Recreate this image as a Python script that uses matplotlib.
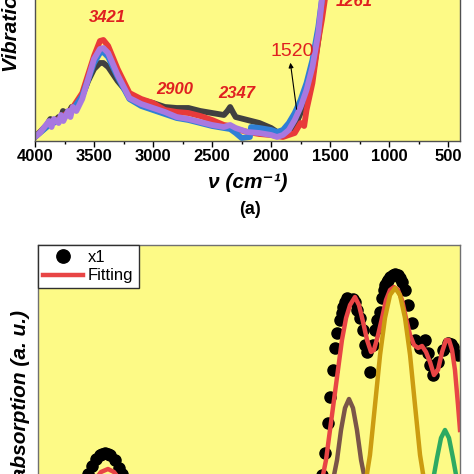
import numpy as np
import matplotlib
matplotlib.use('Agg')
import matplotlib.pyplot as plt

plt.rcParams['font.family'] = ['Liberation Sans', 'DejaVu Sans']

## Top panel (a): FTIR spectra, wavenumber (cm-1) vs absorbance (a.u.)

wn_gray = [4000, 3950, 3900, 3870, 3850, 3800, 3780, 3763, 3720, 3690, 3650, 3600, 3550, 3500, 3450, 3421,
           3380, 3300, 3200, 3100, 3000, 2900, 2800, 2700, 2600, 2500, 2400, 2370, 2347, 2320, 2300, 2200,
           2100, 2000, 1950, 1900, 1850, 1800, 1750, 1700, 1650, 1600, 1560, 1500]
ab_gray = [0.04, 0.10, 0.16, 0.22, 0.18, 0.24, 0.22, 0.30, 0.27, 0.34, 0.32, 0.45, 0.60, 0.72, 0.78, 0.78,
           0.74, 0.60, 0.46, 0.41, 0.38, 0.34, 0.33, 0.33, 0.30, 0.28, 0.26, 0.30, 0.34, 0.28, 0.24, 0.21,
           0.18, 0.13, 0.09, 0.05, 0.08, 0.14, 0.28, 0.44, 0.64, 1.01, 1.41, 2.40]

wn_red = [4000, 3900, 3800, 3700, 3600, 3500, 3450, 3421, 3380, 3300, 3200, 3100, 3000, 2900, 2800, 2700,
          2600, 2500, 2400, 2347, 2300, 2200, 2100, 2000, 1900, 1800, 1750, 1720, 1700, 1650, 1600, 1570,
          1540, 1480]
ab_red = [0.04, 0.15, 0.22, 0.30, 0.48, 0.85, 1.00, 1.01, 0.95, 0.72, 0.48, 0.42, 0.38, 0.31, 0.29, 0.28,
          0.25, 0.21, 0.16, 0.15, 0.12, 0.09, 0.07, 0.06, 0.04, 0.08, 0.18, 0.15, 0.31, 0.58, 1.01, 1.21,
          1.45, 2.40]

wn_blue = [4000, 3900, 3800, 3700, 3600, 3500, 3450, 3421, 3380, 3300, 3200, 3100, 3000, 2900, 2800, 2700,
           2600, 2500, 2400, 2347, 2300, 2250, 2180, 2170, 2100, 2000, 1950, 1900, 1850, 1800, 1750, 1700,
           1650, 1600, 1570, 1500]
ab_blue = [0.04, 0.14, 0.21, 0.28, 0.45, 0.78, 0.88, 0.89, 0.84, 0.64, 0.42, 0.35, 0.31, 0.27, 0.23, 0.21,
           0.18, 0.15, 0.13, 0.12, 0.08, 0.03, 0.04, 0.14, 0.13, 0.11, 0.09, 0.11, 0.18, 0.28, 0.41, 0.58,
           0.81, 1.14, 1.41, 2.40]

wn_purple = [4000, 3960, 3920, 3880, 3860, 3840, 3800, 3780, 3760, 3720, 3700, 3680, 3650, 3600, 3550, 3500,
             3450, 3421, 3380, 3300, 3200, 3100, 3000, 2900, 2800, 2700, 2600, 2500, 2400, 2347, 2300, 2200,
             2100, 2000, 1950, 1900, 1850, 1800, 1750, 1700, 1650, 1600, 1570, 1500]
ab_purple = [0.04, 0.08, 0.14, 0.20, 0.14, 0.22, 0.18, 0.26, 0.20, 0.30, 0.24, 0.34, 0.30, 0.42, 0.62, 0.82,
             0.92, 0.93, 0.88, 0.66, 0.43, 0.37, 0.33, 0.29, 0.24, 0.22, 0.19, 0.16, 0.14, 0.16, 0.13, 0.09,
             0.08, 0.06, 0.04, 0.06, 0.11, 0.21, 0.34, 0.51, 0.74, 1.08, 1.41, 2.40]

peak_labels = ['3421', '2900', '2347', '1261']
peak_pos = [(3390, 1.23), (2814, 0.51), (2289, 0.47), (1298, 1.40)]

## Bottom panel: data points (x1) with fitting and gaussian components

wn_dots = [3650, 3573, 3539, 3505, 3471, 3450, 3428, 3405, 3386, 3343, 3309, 3283, 3200,
           1620, 1580, 1552, 1526, 1509, 1483, 1466, 1449, 1424, 1410, 1398, 1380, 1364, 1338, 1317, 1296,
           1275, 1253, 1227, 1210, 1193, 1168, 1142, 1125, 1108, 1082, 1065, 1052, 1040, 1027, 1014, 997, 975,
           954, 933, 912, 895, 869, 843, 809, 784, 741, 699, 673, 656, 630, 588, 545, 502, 480, 460, 417]
ab_dots = [0.25, 0.46, 0.54, 0.61, 0.65, 0.66, 0.67, 0.66, 0.65, 0.60, 0.52, 0.46, 0.25,
           0.25, 0.45, 0.67, 0.97, 1.23, 1.50, 1.72, 1.87, 2.00, 2.07, 2.13, 2.18, 2.22, 2.20, 2.21, 2.18,
           2.10, 2.02, 1.90, 1.75, 1.68, 1.48, 1.75, 1.90, 2.00, 2.08, 2.22, 2.30, 2.35, 2.38, 2.40, 2.43, 2.45,
           2.46, 2.45, 2.42, 2.38, 2.30, 2.15, 1.97, 1.80, 1.72, 1.80, 1.67, 1.55, 1.45, 1.58, 1.70, 1.77, 1.76,
           1.73, 1.65]

wn_fit = [3600, 3514, 3463, 3403, 3352, 3300, 3250, 1611, 1577, 1543, 1509, 1475, 1441, 1407, 1372, 1338,
          1296, 1262, 1227, 1193, 1159, 1134, 1099, 1065, 1031, 997, 963, 929, 895, 861, 826, 792, 758, 724,
          690, 656, 622, 588, 553, 519, 494, 468, 443, 417, 400]
ab_fit = [0.20, 0.40, 0.48, 0.51, 0.48, 0.40, 0.20, 0.20, 0.40, 0.60, 0.90, 1.20, 1.50, 1.80, 2.02, 2.15,
          2.23, 2.15, 1.98, 1.80, 1.68, 1.70, 1.85, 2.02, 2.20, 2.30, 2.33, 2.30, 2.20, 2.02, 1.85, 1.75, 1.72, 1.74,
          1.68, 1.58, 1.45, 1.50, 1.68, 1.80, 1.80, 1.70, 1.50, 1.15, 0.90]

wn_brown = [1520, 1483, 1449, 1415, 1381, 1347, 1313, 1279, 1244, 1210, 1175]
ab_brown = [0.10, 0.40, 0.60, 0.90, 1.12, 1.21, 1.12, 0.90, 0.60, 0.40, 0.10]

wn_gold = [1240, 1202, 1168, 1125, 1082, 1040, 997, 954, 912, 869, 826, 784, 741, 707, 670]
ab_gold = [0.10, 0.40, 0.65, 1.15, 1.65, 2.02, 2.25, 2.32, 2.25, 2.02, 1.65, 1.15, 0.65, 0.40, 0.10]

wn_green = [665, 630, 596, 562, 528, 494, 460, 426, 390]
ab_green = [0.10, 0.40, 0.62, 0.82, 0.90, 0.82, 0.62, 0.40, 0.10]

bg = '#fdfa86'

fig = plt.figure(figsize=(4.74, 4.74), dpi=100)

## Top axes (its upper part runs off the figure)
ax1 = fig.add_axes([35/474, 1-141/474, 425/474, 200/474])
ax1.set_facecolor(bg)
ax1.plot(wn_gray, ab_gray, color='#404040', lw=4.2, solid_joinstyle='round', solid_capstyle='round')
ax1.plot(wn_red, ab_red, color='#e83a3a', lw=4.2, solid_joinstyle='round', solid_capstyle='round')
ax1.plot(wn_blue, ab_blue, color='#2f7fd6', lw=4.2, solid_joinstyle='round', solid_capstyle='round')
ax1.plot(wn_purple, ab_purple, color='#a878e0', lw=4.2, solid_joinstyle='round', solid_capstyle='round')
ax1.set_xlim(4000, 400)
ax1.set_ylim(0, 2.0)
ax1.set_xticks([4000, 3500, 3000, 2500, 2000, 1500, 1000, 500])
ax1.set_xticks(np.arange(3750, 400, -500), minor=True)
ax1.set_yticks([])
ax1.tick_params(axis='x', which='major', direction='out', length=4, width=1, labelsize=12, pad=2)
ax1.tick_params(axis='x', which='minor', direction='out', length=2.5, width=1)
for lab in ax1.get_xticklabels():
    lab.set_fontweight('bold')
for s in ax1.spines.values():
    s.set_color('#505050')
    s.set_linewidth(1)

for txt, (px, py) in zip(peak_labels, peak_pos):
    ax1.text(px, py, txt, color='#e02020', fontsize=12, fontweight='bold', fontstyle='italic',
             ha='center', va='center')
ax1.text(1823, 0.89, '1520', color='#e02020', fontsize=14, ha='center', va='center')
ax1.annotate('', xy=(1840, 0.81), xytext=(1781, 0.29),
             arrowprops=dict(arrowstyle='-|>', color='black', lw=0.8, mutation_scale=7))

fig.text(248/474, 1-183/474, 'ν (cm⁻¹)', fontsize=15, fontweight='bold', fontstyle='italic',
         ha='center', va='center')
fig.text(250/474, 1-209/474, '(a)', fontsize=13, fontweight='bold', ha='center', va='center')
fig.text(12/474, 1-72/474, 'Vibrational absorption (a. u.)', fontsize=15, fontweight='bold',
         fontstyle='italic', rotation=90, ha='center', va='bottom')

## Bottom axes (its lower part runs off the figure)
ax2 = fig.add_axes([38/474, 1-520/474, 422/474, 275/474])
ax2.set_facecolor(bg)
ax2.plot(wn_dots, ab_dots, 'o', color='black', ms=8, label='x1')
ax2.plot(wn_fit, ab_fit, color='#e84545', lw=3.2, label='Fitting', solid_joinstyle='round')
ax2.plot(wn_brown, ab_brown, color='#7a5548', lw=3.2, solid_joinstyle='round')
ax2.plot(wn_gold, ab_gold, color='#cc9c10', lw=3.2, solid_joinstyle='round')
ax2.plot(wn_green, ab_green, color='#2eaa62', lw=3.2, solid_joinstyle='round')
ax2.set_xlim(4000, 400)
ax2.set_ylim(0, 2.75)
ax2.set_xticks([])
ax2.set_yticks([])
for s in ax2.spines.values():
    s.set_color('#707070')
    s.set_linewidth(1)

leg = ax2.legend(loc='upper left', fontsize=12, frameon=True, fancybox=False, borderaxespad=0,
                 handlelength=2.4, handletextpad=0.3, borderpad=0.3, labelspacing=0.2, markerscale=1.2)
leg.get_frame().set_edgecolor('#303030')
leg.get_frame().set_facecolor('white')
leg.get_frame().set_alpha(1)

fig.text(21/474, 1-310/474, 'Vibrational absorption (a. u.)', fontsize=15, fontweight='bold',
         fontstyle='italic', rotation=90, ha='center', va='top')

plt.savefig('out.png', dpi=100)
